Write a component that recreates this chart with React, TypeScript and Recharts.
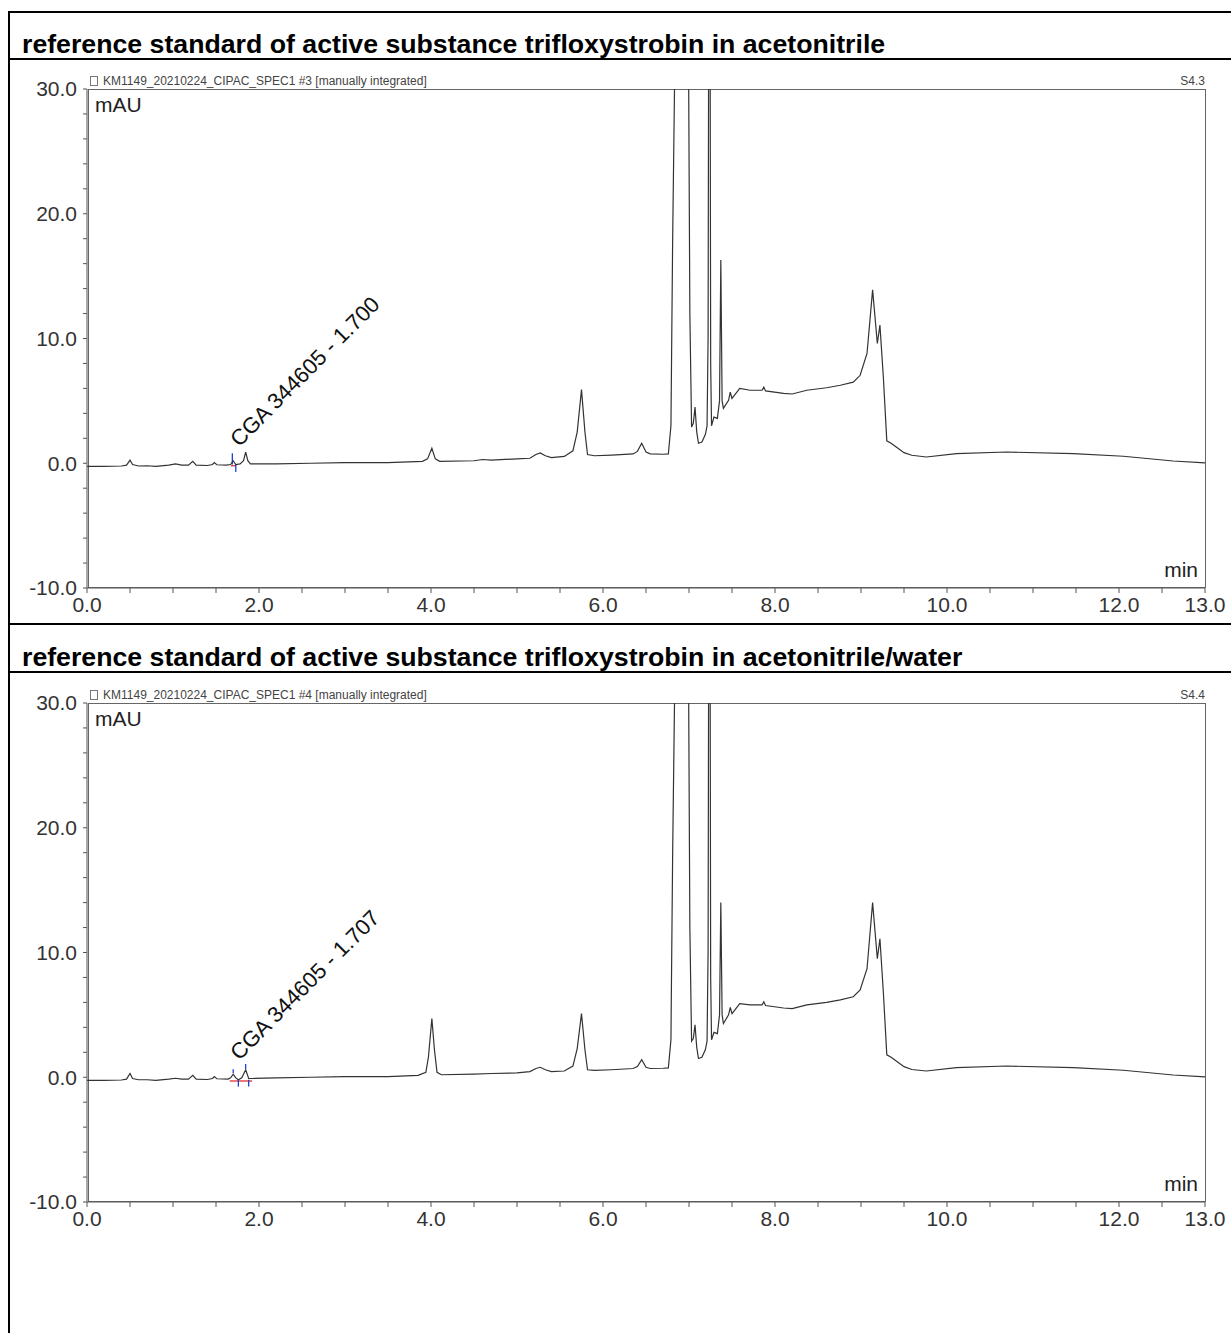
import React from "react";
import { LineChart, Line, XAxis, YAxis, ReferenceLine, ReferenceDot } from "recharts";

// retention time (min) and signal (mAU), run #3: acetonitrile
const timesAcn = [
    0.0, 0.2, 0.4, 0.46, 0.5, 0.53, 0.6, 0.7, 0.8, 0.95, 1.03, 1.1, 1.18, 1.23, 1.27, 1.4, 1.46, 1.48,
    1.51, 1.62, 1.67, 1.7, 1.73, 1.78, 1.82, 1.845, 1.87, 1.9, 2.2, 2.6, 3.0, 3.5, 3.9, 3.96, 4.01,
    4.05, 4.1, 4.5, 4.6, 4.7, 5.0, 5.15, 5.22, 5.27, 5.33, 5.4, 5.55, 5.65, 5.7, 5.75, 5.79, 5.82,
    5.9, 6.1, 6.35, 6.4, 6.45, 6.5, 6.55, 6.7, 6.76, 6.79, 6.81, 6.835, 6.92, 6.995, 7.01, 7.03,
    7.05, 7.07, 7.09, 7.11, 7.15, 7.19, 7.21, 7.222, 7.228, 7.237, 7.246, 7.252, 7.262, 7.29, 7.33,
    7.355, 7.37, 7.385, 7.4, 7.46, 7.48, 7.5, 7.59, 7.71, 7.85, 7.87, 7.89, 8.1, 8.2, 8.37, 8.6,
    8.76, 8.91, 8.99, 9.07, 9.135, 9.19, 9.22, 9.26, 9.3, 9.35, 9.41, 9.5, 9.59, 9.76, 10.11, 10.69,
    11.47, 12.05, 12.63, 13.0,
];
const signalAcn = [
    -0.25, -0.25, -0.22, -0.15, 0.25, -0.1, -0.22, -0.2, -0.25, -0.15, -0.05, -0.15, -0.15, 0.15,
    -0.15, -0.18, -0.1, 0.05, -0.12, -0.15, -0.1, 0.2, -0.1, -0.05, 0.2, 0.9, 0.2, -0.05, -0.05, 0.0,
    0.05, 0.05, 0.15, 0.35, 1.2, 0.35, 0.15, 0.2, 0.3, 0.25, 0.35, 0.4, 0.7, 0.83, 0.6, 0.45, 0.55,
    1.0, 2.5, 5.9, 2.5, 0.7, 0.6, 0.65, 0.75, 0.95, 1.6, 0.9, 0.75, 0.72, 0.75, 3, 18, 32, 200, 32,
    12, 2.9, 3.2, 4.5, 2.5, 1.6, 1.7, 2.3, 3.0, 10, 32, 150, 32, 8, 3.0, 3.7, 3.6, 5, 16.3, 5, 4.4,
    5.05, 5.7, 5.2, 6.0, 5.85, 5.85, 6.1, 5.8, 5.6, 5.55, 5.85, 6.05, 6.25, 6.5, 7.05, 8.8, 13.9,
    9.6, 11.07, 6.9, 1.8, 1.6, 1.3, 0.85, 0.64, 0.5, 0.77, 0.9, 0.77, 0.56, 0.18, 0.03,
];

// run #4: acetonitrile/water
const timesWater = [
    0.0, 0.2, 0.4, 0.46, 0.5, 0.53, 0.6, 0.7, 0.8, 0.95, 1.03, 1.1, 1.18, 1.23, 1.27, 1.4, 1.46, 1.48,
    1.51, 1.64, 1.67, 1.7, 1.73, 1.76, 1.8, 1.845, 1.88, 1.92, 2.2, 2.6, 3.0, 3.5, 3.85, 3.94, 3.97,
    4.01, 4.04, 4.07, 4.12, 4.5, 4.7, 5.0, 5.15, 5.22, 5.27, 5.33, 5.4, 5.55, 5.65, 5.7, 5.75, 5.79,
    5.82, 5.9, 6.1, 6.35, 6.4, 6.45, 6.5, 6.55, 6.7, 6.76, 6.79, 6.81, 6.835, 6.92, 6.995, 7.01, 7.03,
    7.05, 7.07, 7.09, 7.11, 7.15, 7.19, 7.21, 7.222, 7.228, 7.237, 7.246, 7.252, 7.262, 7.29, 7.33,
    7.355, 7.37, 7.385, 7.4, 7.46, 7.48, 7.5, 7.59, 7.71, 7.85, 7.87, 7.89, 8.1, 8.2, 8.37, 8.6,
    8.76, 8.91, 8.99, 9.07, 9.135, 9.19, 9.22, 9.26, 9.3, 9.35, 9.41, 9.5, 9.59, 9.76, 10.11, 10.69,
    11.47, 12.05, 12.63, 13.0,
];
const signalWater = [
    -0.25, -0.25, -0.22, -0.15, 0.3, -0.1, -0.2, -0.2, -0.25, -0.15, -0.08, -0.15, -0.15, 0.15,
    -0.15, -0.18, -0.1, 0.05, -0.12, -0.15, -0.05, 0.24, -0.05, -0.2, -0.05, 0.6, -0.1, -0.1, -0.05,
    0.0, 0.05, 0.05, 0.15, 0.4, 1.6, 4.7, 2.2, 0.4, 0.2, 0.25, 0.3, 0.35, 0.45, 0.7, 0.8, 0.6, 0.45,
    0.5, 0.9, 2.3, 5.1, 2.2, 0.6, 0.55, 0.6, 0.7, 0.85, 1.4, 0.8, 0.7, 0.72, 0.75, 3, 18, 32, 200, 32,
    12, 2.9, 3.1, 4.2, 2.4, 1.5, 1.6, 2.2, 2.9, 10, 32, 150, 32, 8, 3.0, 3.6, 3.5, 5, 14.0, 5, 4.3,
    5.0, 5.6, 5.1, 5.9, 5.8, 5.8, 6.05, 5.75, 5.55, 5.5, 5.8, 6.0, 6.2, 6.45, 7.0, 8.7, 14.0, 9.5,
    11.1, 6.8, 1.8, 1.6, 1.3, 0.85, 0.62, 0.5, 0.77, 0.9, 0.77, 0.56, 0.18, 0.03,
];

const xTicks = [0, 0.5, 1, 1.5, 2, 2.5, 3, 3.5, 4, 4.5, 5, 5.5, 6, 6.5, 7, 7.5, 8, 8.5, 9, 9.5, 10, 10.5, 11, 11.5, 12, 12.5, 13];
const xTickLabels = [0, 2, 4, 6, 8, 10, 12, 13];
const yTicks = [-10, -8, -6, -4, -2, 0, 2, 4, 6, 8, 10, 12, 14, 16, 18, 20, 22, 24, 26, 28, 30];
const yTickLabels = [-10, 0, 10, 20, 30];

const FONT = "'Liberation Sans', Arial, sans-serif";

function peakLabel(text: string) {
    return (props: any) => {
        const vb = props.viewBox || {};
        const x = (vb.x ?? 0) + 6;
        const y = (vb.y ?? 0) - 13;
        return (
            <text
                x={x}
                y={y}
                transform={`rotate(-45 ${x} ${y})`}
                fontSize={22}
                fontFamily={FONT}
                fill="#111"
            >
                {text}
            </text>
        );
    };
}

type Seg = { x1: number; y1: number; x2: number; y2: number; color: string };

function Chromatogram({
    top,
    times,
    values,
    header,
    sample,
    label,
    labelY,
    marks,
}: {
    top: number;
    times: number[];
    values: number[];
    header: string;
    sample: string;
    label: string;
    labelY: number;
    marks: Seg[];
}) {
    const data = times.map((t, i) => ({ t, v: values[i] }));
    return (
        <div style={{ position: "absolute", left: 0, top, width: 1231, height: 624 }}>
            {/* plot frame */}
            <div
                style={{
                    position: "absolute",
                    left: 88,
                    top: 89,
                    width: 1118,
                    height: 499,
                    border: "1.5px solid #666",
                    boxSizing: "border-box",
                }}
            />
            <div style={{ position: "absolute", left: 90, top: 76, width: 6, height: 8, border: "1px solid #777" }} />
            <div style={{ position: "absolute", left: 103, top: 74, fontSize: 12, fontFamily: FONT, color: "#444", whiteSpace: "nowrap" }}>
                {header}
            </div>
            <div style={{ position: "absolute", right: 1231 - 1205, top: 74, fontSize: 12, fontFamily: FONT, color: "#444" }}>
                {sample}
            </div>
            <div style={{ position: "absolute", left: 95, top: 93, fontSize: 21, fontFamily: FONT, color: "#222" }}>mAU</div>
            <div style={{ position: "absolute", right: 1231 - 1198, top: 558, fontSize: 21, fontFamily: FONT, color: "#222" }}>min</div>
            <div style={{ position: "absolute", left: 0, top: 0 }}>
                <LineChart width={1231} height={624} data={data} margin={{ top: 89, right: 26, bottom: 6, left: 0 }}>
                    <XAxis
                        dataKey="t"
                        type="number"
                        domain={[0, 13]}
                        ticks={xTicks}
                        interval={0}
                        allowDataOverflow
                        height={30}
                        stroke="#555"
                        tickSize={5}
                        tickMargin={4}
                        tick={{ fontSize: 21, fontFamily: FONT, fill: "#333" }}
                        tickFormatter={(v: number) => (xTickLabels.includes(v) ? v.toFixed(1) : "")}
                    />
                    <YAxis
                        type="number"
                        domain={[-10, 30]}
                        ticks={yTicks}
                        interval={0}
                        allowDataOverflow
                        width={87}
                        stroke="#555"
                        tickSize={4}
                        tickMargin={6}
                        tick={{ fontSize: 21, fontFamily: FONT, fill: "#333" }}
                        tickFormatter={(v: number) => (yTickLabels.includes(v) ? v.toFixed(1) : "")}
                    />
                    {marks.map((m, i) => (
                        <ReferenceLine
                            key={i}
                            segment={[
                                { x: m.x1, y: m.y1 },
                                { x: m.x2, y: m.y2 },
                            ]}
                            stroke={m.color}
                            strokeWidth={1.3}
                        />
                    ))}
                    <Line
                        type="linear"
                        dataKey="v"
                        stroke="#333"
                        strokeWidth={1.2}
                        dot={false}
                        isAnimationActive={false}
                    />
                    <ReferenceDot x={1.7} y={labelY} r={0} stroke="none" label={peakLabel(label)} />
                </LineChart>
            </div>
        </div>
    );
}

const marksAcn: Seg[] = [
    { x1: 1.675, y1: -0.2, x2: 1.735, y2: -0.2, color: "#e03030" },
    { x1: 1.69, y1: 0.8, x2: 1.69, y2: -0.1, color: "#2040e0" },
    { x1: 1.73, y1: -0.1, x2: 1.73, y2: -0.7, color: "#2040e0" },
];
const marksWater: Seg[] = [
    { x1: 1.66, y1: -0.3, x2: 1.92, y2: -0.3, color: "#e03030" },
    { x1: 1.7, y1: 0.64, x2: 1.7, y2: 0.32, color: "#2040e0" },
    { x1: 1.76, y1: -0.2, x2: 1.76, y2: -0.75, color: "#2040e0" },
    { x1: 1.845, y1: 1.07, x2: 1.845, y2: 0.67, color: "#2040e0" },
    { x1: 1.88, y1: -0.2, x2: 1.88, y2: -0.75, color: "#2040e0" },
];

function HLine({ y, h }: { y: number; h: number }) {
    return <div style={{ position: "absolute", left: 8, top: y, width: 1223, height: h, background: "#000" }} />;
}

export default function App() {
    return (
        <div style={{ position: "absolute", left: 0, top: 0, width: 1231, height: 1333, background: "#fff", overflow: "hidden" }}>
            <div style={{ position: "absolute", left: 8, top: 11, width: 2, height: 1322, background: "#000" }} />
            <HLine y={11} h={2} />
            <HLine y={58} h={1.5} />
            <HLine y={623} h={2} />
            <HLine y={671} h={1.5} />
            <div style={{ position: "absolute", left: 22, top: 29, fontSize: 26.7, fontWeight: "bold", fontFamily: FONT, whiteSpace: "nowrap" }}>
                reference standard of active substance trifloxystrobin in acetonitrile
            </div>
            <div style={{ position: "absolute", left: 22, top: 642, fontSize: 26.7, fontWeight: "bold", fontFamily: FONT, whiteSpace: "nowrap" }}>
                reference standard of active substance trifloxystrobin in acetonitrile/water
            </div>
            <Chromatogram
                top={0}
                times={timesAcn}
                values={signalAcn}
                header="KM1149_20210224_CIPAC_SPEC1 #3 [manually integrated]"
                sample="S4.3"
                label="CGA 344605 - 1.700"
                labelY={0.2}
                marks={marksAcn}
            />
            <Chromatogram
                top={614}
                times={timesWater}
                values={signalWater}
                header="KM1149_20210224_CIPAC_SPEC1 #4 [manually integrated]"
                sample="S4.4"
                label="CGA 344605 - 1.707"
                labelY={0.24}
                marks={marksWater}
            />
        </div>
    );
}
